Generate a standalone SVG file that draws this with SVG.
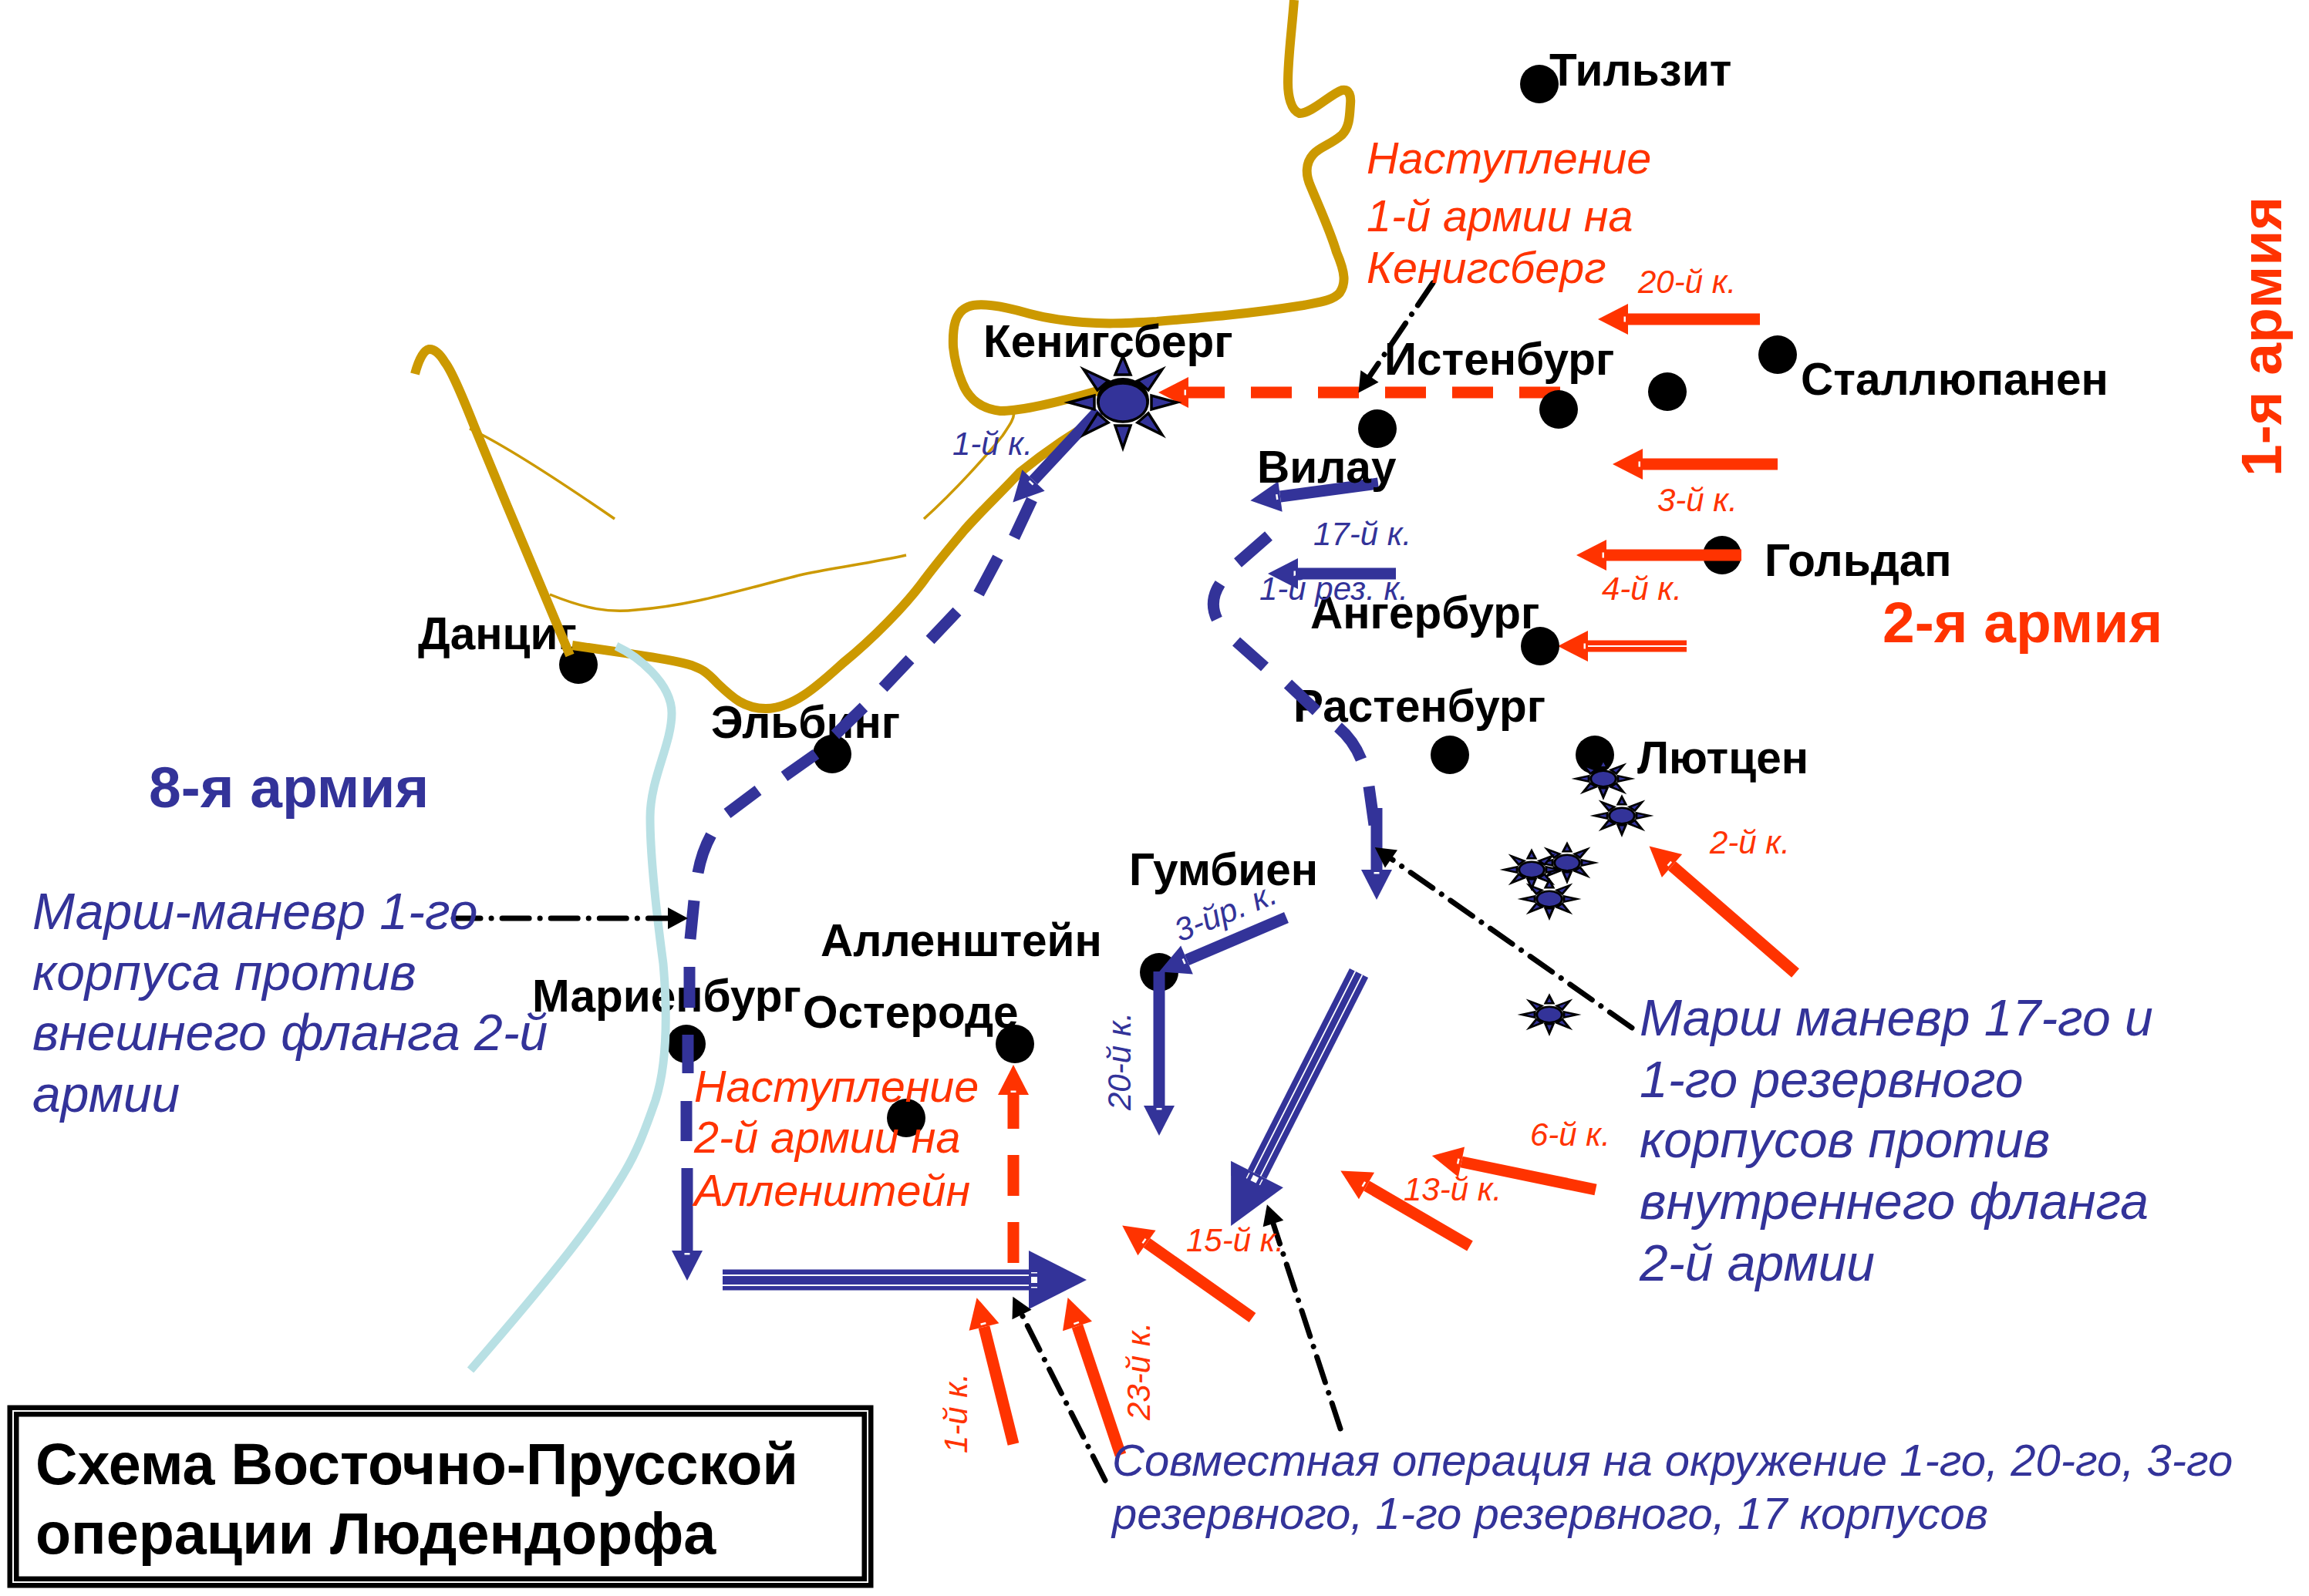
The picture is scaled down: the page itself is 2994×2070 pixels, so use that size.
<svg xmlns="http://www.w3.org/2000/svg" width="2994" height="2070" viewBox="0 0 2994 2070">
<style>
text{font-family:"Liberation Sans",Arial,sans-serif}
.n{font-size:58.500px;font-weight:700;fill:#000}
.r{font-size:57.500px;font-style:italic;fill:#FF3300}
.b{font-size:66px;font-style:italic;fill:#333399}
.c{font-size:58px;font-style:italic;fill:#333399}
.sr{font-size:42px;font-style:italic;fill:#FF3300}
.sb{font-size:42px;font-style:italic;fill:#333399}
.ab{font-size:75px;font-weight:700}
.t{font-size:75.500px;font-weight:700;fill:#000}
.dot{fill:#000}
.gold{fill:none;stroke:#CC9900;stroke-width:12;stroke-linejoin:round}
.thin{fill:none;stroke:#CC9900;stroke-width:3.500}
.river{fill:none;stroke:#B8E0E4;stroke-width:11}
.ar{stroke:#FF3300;stroke-width:15;fill:none;marker-end:url(#hr)}
.abl{stroke:#333399;stroke-width:15;fill:none;marker-end:url(#hb)}
.dr{stroke-dasharray:53 34}
.k{stroke:#000;stroke-width:7;fill:none;stroke-linecap:round;stroke-dasharray:35 14 .1 14;marker-end:url(#hk)}
.tr{stroke:#333399;stroke-width:27;fill:none}
.w{stroke:#fff;stroke-width:1.800;fill:none}
.ray,.core{fill:#333399;stroke:#000}
.big{stroke-width:3.500}
.small{stroke-width:6}
</style>
<defs>
<marker id="hr" markerUnits="userSpaceOnUse" markerWidth="44" markerHeight="44" refX="1" refY="22" orient="auto" viewBox="0 0 44 44"><path d="M1 2L40 22L1 42z" fill="#FF3300"/><rect x="4" y="18.500" width="2.500" height="7" fill="#fff"/></marker>
<marker id="hb" markerUnits="userSpaceOnUse" markerWidth="44" markerHeight="44" refX="1" refY="22" orient="auto" viewBox="0 0 44 44"><path d="M1 2L40 22L1 42z" fill="#333399"/><rect x="4" y="18.500" width="2.500" height="7" fill="#fff"/></marker>
<marker id="hB" markerUnits="userSpaceOnUse" markerWidth="80" markerHeight="80" refX="1" refY="40" orient="auto" viewBox="0 0 80 80"><path d="M1 2L76 40L1 78z" fill="#333399"/><rect x="4" y="36" width="8" height="8" fill="#fff"/><rect x="4" y="30" width="8" height="1.500" fill="#fff"/><rect x="4" y="49" width="8" height="1.500" fill="#fff"/></marker>
<marker id="hk" markerUnits="userSpaceOnUse" markerWidth="32" markerHeight="32" refX="2" refY="16" orient="auto" viewBox="0 0 32 32"><path d="M2 2L28 16L2 30z" fill="#000"/></marker>
<g id="sun">
<ellipse class="core" cx="0" cy="0" rx="32" ry="25"/>
<path class="ray" d="M0-60L10-36H-10z"/><path class="ray" d="M0 59L10 30H-10z"/>
<path class="ray" d="M70 0L37-9V9z"/><path class="ray" d="M-70 0L-37-9V9z"/>
<path class="ray" d="M51-43L19-28L33-16z"/><path class="ray" d="M-51-43L-19-28L-33-16z"/>
<path class="ray" d="M51 42L19 26L33 14z"/><path class="ray" d="M-51 42L-19 26L-33 14z"/>
</g>
</defs>
<rect width="2994" height="2070" fill="#fff"/>

<g id="node-marienburg"><circle class="dot" cx="890" cy="1354" r="25"/><text class="n" x="690" y="1312">Мариенбург</text></g>
<g id="node-danzig"><text class="n" x="542" y="842">Данциг</text><circle class="dot" cx="750" cy="862" r="25"/></g>
<g id="node-elbing"><text class="n" x="922" y="957">Эльбинг</text><circle class="dot" cx="1079" cy="978" r="25"/></g>
<g id="node-rastenburg"><circle class="dot" cx="1880" cy="979" r="25"/><text class="n" x="1677" y="936">Растенбург</text></g>
<g id="node-goldap"><circle class="dot" cx="2233" cy="720" r="25"/><text class="n" x="2288" y="747">Гольдап</text></g>
<g id="node-gumbinnen"><circle class="dot" cx="1503" cy="1261" r="25"/><text class="n" x="1464" y="1148">Гумбиен</text></g>

<g id="terrain">
<path class="gold" d="M1678 0C1675 40 1670 75 1670 107C1670 125 1674 143 1685 147C1700 148 1725 122 1740 117C1750 115 1752 125 1751 135C1750 150 1750 165 1740 175C1725 188 1712 190 1703 200C1692 212 1693 228 1700 243C1712 272 1725 300 1733 327C1745 355 1745 368 1737 380C1728 390 1710 392 1690 396C1620 407 1560 412 1500 417C1450 420 1430 420 1404 418C1370 415 1345 410 1328 405C1300 397 1270 392 1255 398C1238 405 1235 425 1236 450C1238 470 1243 485 1248 497C1255 515 1270 530 1297 533C1325 533 1380 520 1440 502"/>
<path class="gold" d="M1430 540Q1375 570 1322 613C1295 642 1275 660 1251 687C1230 712 1215 730 1200 750C1175 785 1130 830 1093 860C1065 885 1030 919 993 919C965 919 950 905 931 887C915 870 910 868 897 863C870 855 840 852 811 847L742 837"/>
<path class="gold" d="M739 850L658 657L615 553C600 515 585 480 577 470C570 458 562 452 556 453C548 455 542 470 538 485"/>
<path class="thin" d="M609 556C650 575 720 620 797 673"/>
<path class="thin" d="M713 771C760 790 790 795 825 791C900 785 960 765 1041 745C1090 735 1130 730 1175 720"/>
<path class="thin" d="M1198 673C1240 635 1280 590 1300 565C1310 550 1314 545 1315 535"/>
<path class="river" d="M799 838C825 850 871 885 871 925C871 965 843 1010 843 1060C843 1110 852 1190 860 1250C866 1320 865 1380 850 1427C835 1470 825 1495 810 1520C775 1580 720 1650 610 1777"/>
</g>

<g id="connectors">
<path class="ar" d="M2282 414H2111"/>
<path class="ar" d="M2305 602H2130"/>
<path class="ar" d="M2258 720H2083"/>
<path class="ar" d="M2187 838H2059"/><path class="w" d="M2187 838H2059"/>
<path class="ar" d="M2328 1262L2168 1123"/>
<path class="ar" d="M2069 1543L1895 1507"/>
<path class="ar" d="M1906 1616L1772 1538"/>
<path class="ar" d="M1624 1709L1487 1612"/>
<path class="ar" d="M1314 1873L1276 1721"/>
<path class="ar" d="M1453 1887L1397 1720"/>
<path class="ar dr" d="M2023 509H1541"/>
<path class="ar dr" d="M1314 1638V1420"/>

<path class="abl" d="M1424 533L1340 623"/>
<path class="abl" d="M1338 648L1315 697M1294 723L1269 770M1241 793L1206 830M1180 855L1145 892M1120 917L1083 953M1058 978L1017 1007M983 1025L943 1055M922 1083Q910 1105 905 1132M900 1168L895 1218M894 1254V1307M892 1342V1392M890 1428V1480M891 1515V1622"/>
<path class="abl" d="M1645 695L1605 730M1582 757Q1567 780 1578 803M1603 832L1640 865M1670 887L1707 922M1735 943Q1755 960 1765 985M1775 1020L1782 1070M1785 1048V1128"/>
<path class="abl" d="M1787 627L1660 644"/>
<path class="abl" d="M1810 744H1683"/>
<path class="abl" d="M1668 1190L1539 1245"/>
<path class="abl" d="M1503 1260V1434"/>

<path class="tr" d="M1762 1262L1630 1523" marker-end="url(#hB)"/>
<path class="w" d="M1766.500 1264.300L1634.500 1525.300M1757.500 1259.700L1625.500 1520.700"/>
<path class="tr" d="M937 1660H1334" marker-end="url(#hB)"/>
<path class="w" d="M937 1654H1334M937 1667H1334"/>

<path class="k" d="M1858 367L1776 488"/>
<path class="k" d="M588 1191H866"/>
<path class="k" d="M2116 1333L1804 1114"/>
<path class="k" d="M1433 1920L1325 1705"/>
<path class="k" d="M1738 1853L1651 1587"/>
</g>

<g id="node-tilsit"><circle class="dot" cx="1996" cy="109" r="25"/><text class="n" x="2009" y="111">Тильзит</text></g>
<g id="node-konigsberg"><ellipse cx="1456" cy="519" rx="34" ry="29" fill="#000"/><use class="big" href="#sun" transform="translate(1456 522)"/><text class="n" x="1275" y="463">Кенигсберг</text></g>
<g id="node-insterburg"><circle class="dot" cx="2021" cy="531" r="25"/><text class="n" x="1795" y="486">Истенбург</text></g>
<g id="node-wilau"><circle class="dot" cx="1786" cy="556" r="25"/><text class="n" x="1630" y="626">Вилау</text></g>
<g id="node-dot3"><circle class="dot" cx="2162" cy="508" r="25"/></g>
<g id="node-stallupanen"><circle class="dot" cx="2305" cy="460" r="25"/><text class="n" x="2335" y="512">Сталлюпанен</text></g>
<g id="node-angerburg"><circle class="dot" cx="1997" cy="838" r="25"/><text class="n" x="1699" y="815">Ангербург</text></g>
<g id="node-lutzen"><circle class="dot" cx="2068" cy="979" r="25"/><text class="n" x="2123" y="1003">Лютцен</text></g>
<g id="node-allenstein"><circle class="dot" cx="1175" cy="1450" r="25"/><text class="n" x="1064" y="1240">Алленштейн</text></g>
<g id="node-osterode"><circle class="dot" cx="1316" cy="1354" r="25"/><text class="n" x="1041" y="1333">Остероде</text></g>

<g id="units">
<use class="small" href="#sun" transform="translate(2079 1010) scale(.51 .41)"/>
<use class="small" href="#sun" transform="translate(2103 1058) scale(.51 .41)"/>
<use class="small" href="#sun" transform="translate(2032 1119) scale(.51 .41)"/>
<use class="small" href="#sun" transform="translate(1986 1128) scale(.51 .41)"/>
<use class="small" href="#sun" transform="translate(2009 1166) scale(.51 .41)"/>
<use class="small" href="#sun" transform="translate(2009 1316) scale(.51 .41)"/>
</g>

<g id="labels">
<text class="r" x="1772" y="225">Наступление</text>
<text class="r" x="1772" y="300">1-й армии на</text>
<text class="r" x="1772" y="367">Кенигсберг</text>
<text class="r" x="900" y="1429">Наступление</text>
<text class="r" x="900" y="1495">2-й армии на</text>
<text class="r" x="900" y="1564">Алленштейн</text>
<text class="b" x="42" y="1205">Марш-маневр 1-го</text>
<text class="b" x="42" y="1284">корпуса против</text>
<text class="b" x="42" y="1362">внешнего фланга 2-й</text>
<text class="b" x="42" y="1442">армии</text>
<text class="b" x="2126" y="1343">Марш маневр 17-го и</text>
<text class="b" x="2126" y="1423">1-го резервного</text>
<text class="b" x="2126" y="1501">корпусов против</text>
<text class="b" x="2126" y="1581">внутреннего фланга</text>
<text class="b" x="2126" y="1661">2-й армии</text>
<text class="c" x="1442" y="1914">Совместная операция на окружение 1-го, 20-го, 3-го</text>
<text class="c" x="1442" y="1983">резервного, 1-го резервного, 17 корпусов</text>
<text class="ab" x="193" y="1047" fill="#333399">8-я армия</text>
<text class="ab" x="2441" y="833" fill="#FF3300">2-я армия</text>
<text class="ab" transform="translate(2958 618) rotate(-90)" fill="#FF3300">1-я армия</text>
<text class="sr" x="2124" y="380">20-й к.</text>
<text class="sr" x="2149" y="663">3-й к.</text>
<text class="sr" x="2077" y="778">4-й к.</text>
<text class="sr" x="2217" y="1107">2-й к.</text>
<text class="sr" x="1984" y="1486">6-й к.</text>
<text class="sr" x="1820" y="1557">13-й к.</text>
<text class="sr" x="1538" y="1623">15-й к.</text>
<text class="sb" x="1235" y="590">1-й к.</text>
<text class="sb" x="1703" y="707">17-й к.</text>
<text class="sb" x="1633" y="778">1-й рез. к.</text>
<text class="sb" transform="translate(1530 1222) rotate(-22)">3-йр. к.</text>
<text class="sb" transform="translate(1466 1440) rotate(-90)">20-й к.</text>
<text class="sr" transform="translate(1254 1885) rotate(-90)">1-й к.</text>
<text class="sr" transform="translate(1491 1842) rotate(-90)">23-й к.</text>
</g>

<g id="title">
<rect x="17" y="1830" width="1108" height="222" fill="#fff" stroke="#000" stroke-width="15"/>
<rect x="17" y="1830" width="1108" height="222" fill="none" stroke="#fff" stroke-width="2"/>
<text class="t" x="46" y="1925">Схема Восточно-Прусской</text>
<text class="t" x="46" y="2015">операции Людендорфа</text>
</g>
</svg>
